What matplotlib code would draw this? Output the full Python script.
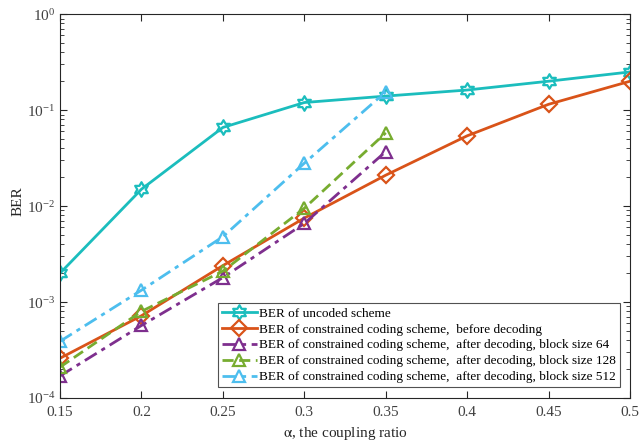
import numpy as np
import matplotlib
matplotlib.use("Agg")
import matplotlib.pyplot as plt
from matplotlib.path import Path
from matplotlib.ticker import LogLocator, NullFormatter, FixedLocator

plt.rcParams['font.family'] = ['Liberation Serif', 'DejaVu Serif']
plt.rcParams['mathtext.fontset'] = 'stix'

alpha = [0.15, 0.2, 0.25, 0.3, 0.35, 0.4, 0.45, 0.5]
alpha_dec = [0.15, 0.2, 0.25, 0.3, 0.35]
alpha_ticklabels = ['0.15', '0.2', '0.25', '0.3', '0.35', '0.4', '0.45', '0.5']

ber_uncoded = [2.0e-3, 1.5e-2, 6.6e-2, 1.2e-1, 1.4e-1, 1.62e-1, 2.0e-1, 2.5e-1]
ber_before = [2.6e-4, 7.2e-4, 2.4e-3, 7.5e-3, 2.1e-2, 5.4e-2, 1.15e-1, 2.0e-1]
ber_blk64 = [1.7e-4, 5.7e-4, 1.8e-3, 6.6e-3, 3.7e-2]
ber_blk128 = [2.1e-4, 8.0e-4, 2.1e-3, 9.5e-3, 5.8e-2]
ber_blk512 = [3.9e-4, 1.33e-3, 4.8e-3, 2.8e-2, 1.55e-1]

labels = [
    "BER of uncoded scheme",
    "BER of constrained coding scheme,  before decoding",
    "BER of constrained coding scheme,  after decoding, block size 64",
    "BER of constrained coding scheme,  after decoding, block size 128",
    "BER of constrained coding scheme,  after decoding, block size 512",
]

c_teal = '#1BBDBD'
c_orange = '#D95319'
c_purple = '#7E2F8E'
c_green = '#77AC30'
c_blue = '#4DBEEE'

# six-pointed star (hexagram) outline
ang = np.pi / 2 + np.arange(12) * np.pi / 6
rad = np.where(np.arange(12) % 2 == 0, 1.0, 1.0 / np.sqrt(3))
verts = np.column_stack([rad * np.cos(ang), rad * np.sin(ang)])
verts = np.vstack([verts, verts[:1]])
hexagram = Path(verts, [Path.MOVETO] + [Path.LINETO] * 11 + [Path.CLOSEPOLY])

fig = plt.figure(figsize=(6.39, 4.42), dpi=100)
ax = fig.add_axes([0.094, 0.0995, 0.892, 0.8685])

mk = dict(markersize=9, markerfacecolor='none', markeredgewidth=1.6, linewidth=2)
ax.plot(alpha, ber_uncoded, color=c_teal, linestyle='-', marker=hexagram, label=labels[0],
        **{**mk, 'markersize': 10.5})
ax.plot(alpha, ber_before, color=c_orange, linestyle='-', marker='D', label=labels[1],
        **{**mk, 'markersize': 8})
ax.plot(alpha_dec, ber_blk64, color=c_purple, linestyle=(0, (5, 2, 1.5, 2)), marker='^', label=labels[2], **mk)
ax.plot(alpha_dec, ber_blk128, color=c_green, linestyle=(0, (4, 2)), marker='^', label=labels[3], **mk)
ax.plot(alpha_dec, ber_blk512, color=c_blue, linestyle=(0, (5, 2, 1.5, 2)), marker='^', label=labels[4], **mk)

ax.set_yscale('log')
ax.set_ylim(1e-4, 1)
ax.set_xlim(0.15, 0.5)
ax.xaxis.set_major_locator(FixedLocator(alpha))
ax.set_xticklabels(alpha_ticklabels)
ax.yaxis.set_major_locator(LogLocator(base=10, numticks=10))
ax.yaxis.set_minor_locator(LogLocator(base=10, subs=np.arange(2, 10), numticks=10))
ax.yaxis.set_minor_formatter(NullFormatter())

ax.tick_params(which='both', direction='in', top=True, right=True, colors='#262626',
               labelcolor='#404040', labelsize=11)
ax.tick_params(axis='x', which='major', pad=6)
ax.tick_params(which='major', length=5, width=0.8)
ax.tick_params(which='minor', length=3, width=0.6)
for s in ax.spines.values():
    s.set_color('#262626')
    s.set_linewidth(0.8)

ax.set_xlabel(r'$\mathrm{\alpha}$, the coupling ratio', fontsize=11, color='#262626', labelpad=4)
ax.set_ylabel('BER', fontsize=11, color='#262626')
ax.yaxis.set_label_coords(-0.063, 0.513)

leg = ax.legend(loc='lower right', bbox_to_anchor=(0.9825, 0.028), fontsize=9.5, frameon=True,
                fancybox=False, edgecolor='#262626', handlelength=2.7, handletextpad=0.15,
                labelspacing=0.28, borderpad=0.3, borderaxespad=0)
leg.get_frame().set_linewidth(0.8)

fig.savefig('out.png', dpi=100)
